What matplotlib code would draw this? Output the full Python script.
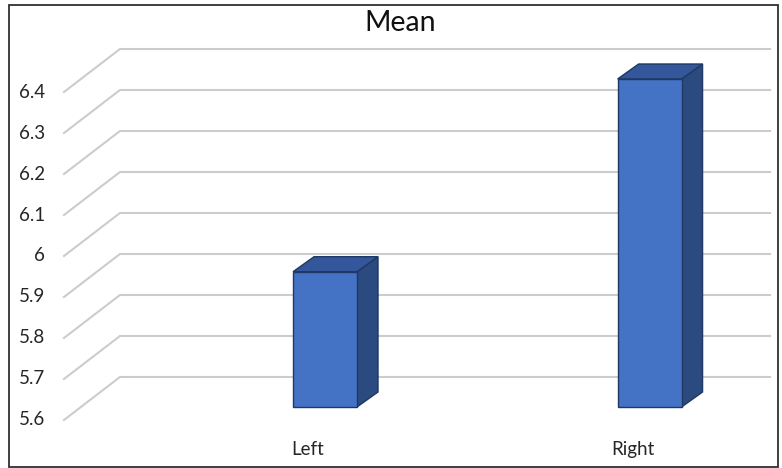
import matplotlib.pyplot as plt
from matplotlib.patches import Polygon, Rectangle

# data
categories = ["Left", "Right"]
means = [5.93, 6.40]
tick_values = [5.6, 5.7, 5.8, 5.9, 6.0, 6.1, 6.2, 6.3, 6.4]
tick_labels = ["5.6", "5.7", "5.8", "5.9", "6", "6.1", "6.2", "6.3", "6.4"]
base = 5.6

W, H = 782, 468
fig = plt.figure(figsize=(W / 100, H / 100), dpi=100)
ax = fig.add_axes([0, 0, 1, 1])
ax.set_xlim(-1.0015, 1.408)
ax.set_ylim(5.4512, 6.5927)
ax.axis("off")

plt.rcParams["font.family"] = ["Lato", "DejaVu Sans"]
txt_color = "#262626"

# pixel -> data unit conversion for the fake depth
xr = ax.get_xlim()[1] - ax.get_xlim()[0]
yr = ax.get_ylim()[1] - ax.get_ylim()[0]


def px(dx, dy):
    return dx * xr / W, dy * yr / H


front = px(-17, -13)   # front edge of the floor
back = px(39, 30)      # back wall
bar_depth = px(21, 15)
x_left = -0.752
x_right = 1.251

# gridlines: diagonal on side wall + horizontal on back wall
for v in tick_values:
    xs = [x_left + front[0], x_left + back[0], x_right + back[0]]
    ys = [v + front[1], v + back[1], v + back[1]]
    ax.plot(xs, ys, color="#cccccc", lw=1.5, solid_joinstyle="miter", zorder=1)

for v, lab in zip(tick_values, tick_labels):
    ax.text(x_left + front[0] - px(19, 0)[0], v + front[1], lab,
            ha="right", va="center", fontsize=13.5, color=txt_color)

# 3d-looking columns
bw = 0.197
edge = "#1f3864"
for i, (cat, m) in enumerate(zip(categories, means)):
    l, r = i - bw / 2, i + bw / 2
    bdx, bdy = bar_depth
    side = [(r, base), (r + bdx, base + bdy), (r + bdx, m + bdy), (r, m)]
    top = [(l, m), (r, m), (r + bdx, m + bdy), (l + bdx, m + bdy)]
    ax.add_patch(Polygon(side, closed=True, fc="#2b4a80", ec=edge, lw=1, zorder=3))
    ax.add_patch(Polygon(top, closed=True, fc="#33579a", ec=edge, lw=1, zorder=3))
    ax.add_patch(Rectangle((l, base), bw, m - base, fc="#4472c4", ec=edge, lw=1, zorder=4))
    ax.text(i + front[0], base + front[1] - px(0, 30)[1], cat,
            ha="center", va="center", fontsize=13.5, color=txt_color)

fig.text(400 / W, 1 - 23 / H, "Mean", ha="center", va="center",
         fontsize=20.5, color="#111111")

fig.add_artist(Rectangle((8.5 / W, 1.5 / H), 769 / W, 461.5 / H,
                         transform=fig.transFigure, fill=False,
                         ec="#303030", lw=1.3))

fig.savefig("out.png", dpi=100)
